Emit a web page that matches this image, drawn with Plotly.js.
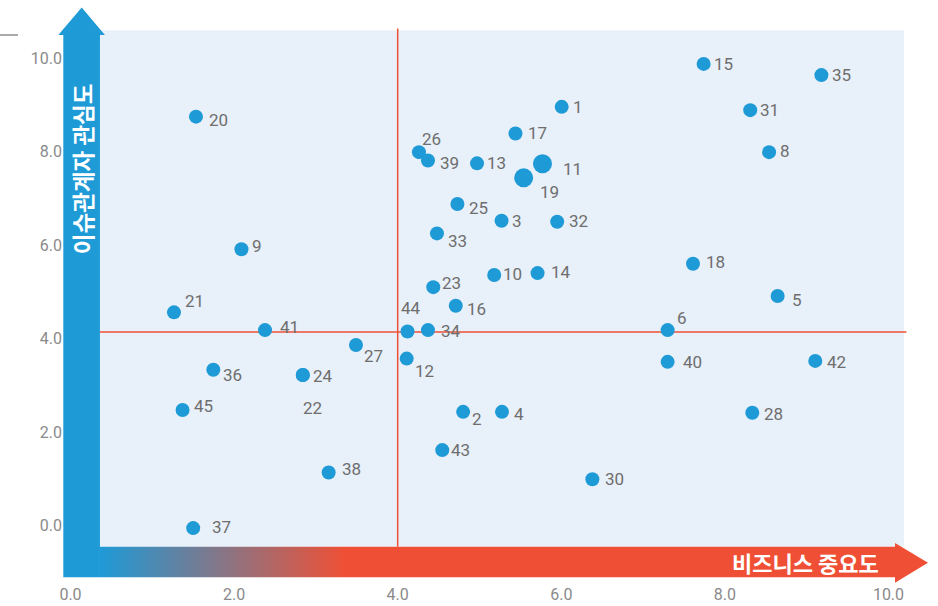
<!DOCTYPE html>
<html><head><meta charset="utf-8">
<script src="https://cdn.plot.ly/plotly-3.0.1.min.js"></script>
<style>html,body{margin:0;padding:0;background:#fff}#chart{width:938px;height:606px}</style>
</head><body><div id="chart"></div>
<script>
// ---- data ----
const ids = [1,2,3,4,5,6,8,9,10,11,12,13,14,15,16,17,18,19,20,21,22,23,24,25,26,27,28,30,31,32,33,34,35,36,37,38,39,40,41,42,43,44,45];
const bizImportance = [6.005,4.80,5.27,5.275,8.645,7.30,8.54,2.09,5.18,5.77,4.11,4.97,5.71,7.74,4.71,5.44,7.61,5.54,1.534,1.265,2.84,4.435,2.84,4.73,4.26,3.49,8.335,6.38,8.31,5.95,4.48,4.37,9.18,1.746,1.50,3.156,4.37,7.30,2.378,9.105,4.545,4.12,1.37];
const stakeholderInterest = [8.96,2.43,6.52,2.43,4.91,4.18,7.99,5.91,5.36,7.74,3.57,7.75,5.40,9.88,4.70,8.39,5.60,7.44,8.75,4.56,3.22,5.10,3.22,6.88,7.99,3.86,2.41,0.985,8.89,6.50,6.25,4.18,9.64,3.33,-0.06,1.13,7.81,3.50,4.18,3.52,1.61,4.15,2.47];
const largeIds = [11, 19];
const xThreshold = 4.0;
const yThreshold = 4.14;
const xTicks = [0,2,4,6,8,10];
const yTicks = [0,2,4,6,8,10];
const xAxisTitle = '비즈니스 중요도';
const yAxisTitle = '이슈관계자 관심도';

// ---- label placement (style: pixel offsets of label from its dot) ----
const labelOffsets = {
  1:[11.6,0],2:[8.4,7],3:[10.6,0],4:[12.3,2],5:[14.3,4],6:[9,-12],8:[11,-1.5],9:[10.6,-3],
  10:[8.3,-1],11:[20.6,5],12:[8.3,12],13:[9.7,0],14:[13.4,-1],15:[10.6,0],16:[11,3.5],
  17:[12.4,0],18:[12.7,-1.5],19:[16.7,14],20:[13.3,3],21:[11.3,-11],22:[0.6,33],23:[8.4,-4.5],
  24:[10.6,1],25:[12,3.5],26:[2.7,-13],27:[8,11],28:[12,1.5],30:[12.3,0],31:[10,0],32:[12,-1],
  33:[10.7,7.5],34:[13.3,1],35:[10.6,0],36:[9.4,5.5],37:[18.4,-1],38:[13.6,-3.5],39:[12.3,2],
  40:[15,0],41:[15,-3.3],42:[11.4,1],43:[8.4,0],44:[-7,-24],45:[11.3,-4]
};

// ---- styling / geometry constants ----
const BLUE = '#1E9AD6', RED = '#EF5035', BG = '#E8F0F9';
const bgBox = {x0:0.36, x1:10.19, y0:-0.46, y1:10.6};
const vArrow = {x0:-0.088, x1:0.36, yBottom:-1.11, headBase:10.5, headL:-0.149, headR:0.421, tipX:0.137, tipY:11.09};
const hArrow = {x0:0.36, bodyEnd:10.08, yTop:-0.46, yBot:-1.11, headTop:-0.379, headBot:-1.229, tipX:10.483, tipY:-0.804};
const gradStart = 0.36, gradStop = 3.36;

const markerSizes = ids.map(id => largeIds.includes(id) ? 19 : 14);

const arrowTrace = {
  type:'scatter', mode:'lines', hoverinfo:'skip', showlegend:false,
  x:[hArrow.x0, hArrow.bodyEnd, hArrow.bodyEnd, hArrow.tipX, hArrow.bodyEnd, hArrow.bodyEnd, hArrow.x0, hArrow.x0],
  y:[hArrow.yTop, hArrow.yTop, hArrow.headTop, hArrow.tipY, hArrow.headBot, hArrow.yBot, hArrow.yBot, hArrow.yTop],
  line:{width:0, color:RED},
  fill:'toself',
  fillcolor:RED,
  fillgradient:{type:'horizontal', colorscale:[[0,BLUE],[1,RED]], start:gradStart, stop:gradStop}
};

const pointTrace = {
  type:'scatter', mode:'markers', showlegend:false, hoverinfo:'skip',
  x: bizImportance, y: stakeholderInterest,
  marker:{color:BLUE, size:markerSizes, opacity:1, line:{width:0}}
};

const labelAnns = ids.map((id, i) => {
  const off = labelOffsets[id] || [10,0];
  return {
    x: bizImportance[i], y: stakeholderInterest[i], xref:'x', yref:'y',
    text: String(id), showarrow:false, xanchor:'left', yanchor:'middle',
    xshift: off[0], yshift: -off[1], borderpad:0, borderwidth:0,
    font:{family:'Roboto, "Noto Sans", sans-serif', size:17, color:'#6e6e6e'}
  };
});

const titleAnns = [
  {x:vArrow.tipX, y:7.64, xref:'x', yref:'y', text:yAxisTitle, showarrow:false, textangle:-90,
   xanchor:'center', yanchor:'middle', font:{family:'"Noto Sans CJK KR", sans-serif', size:22.5, color:'#ffffff', weight:700}},
  {x:8.98, y:-0.78, xref:'x', yref:'y', text:xAxisTitle, showarrow:false,
   xanchor:'center', yanchor:'middle', font:{family:'"Noto Sans CJK KR", sans-serif', size:22, color:'#ffffff', weight:700}}
];

const shapes = [
  {type:'rect', xref:'x', yref:'y', x0:bgBox.x0, x1:bgBox.x1, y0:bgBox.y0, y1:bgBox.y1, fillcolor:BG, line:{width:0}, layer:'below'},
  {type:'path', xref:'x', yref:'y', layer:'below', fillcolor:BLUE, line:{width:0},
   path:`M${vArrow.x0},${vArrow.yBottom} L${vArrow.x1},${vArrow.yBottom} L${vArrow.x1},${vArrow.headBase} L${vArrow.headR},${vArrow.headBase} L${vArrow.tipX},${vArrow.tipY} L${vArrow.headL},${vArrow.headBase} L${vArrow.x0},${vArrow.headBase} Z`},
  {type:'line', xref:'x', yref:'y', x0:xThreshold, x1:xThreshold, y0:bgBox.y0, y1:bgBox.y1+0.04, line:{color:RED, width:1.5}, layer:'below'},
  {type:'line', xref:'x', yref:'y', x0:bgBox.x0, x1:bgBox.x1+0.03, y0:yThreshold, y1:yThreshold, line:{color:RED, width:1.5}, layer:'below'},
  {type:'line', xref:'paper', yref:'paper', x0:-55/877, x1:-37/877, y0:(585-35)/580, y1:(585-35)/580, line:{color:'#555555', width:1}}
];

const tickFont = {family:'Roboto, "Noto Sans", sans-serif', size:16, color:'#8a8a8a'};

const layout = {
  width:938, height:606,
  margin:{l:55, r:6, t:5, b:21, pad:0},
  paper_bgcolor:'#ffffff', plot_bgcolor:'rgba(0,0,0,0)',
  showlegend:false, hovermode:false,
  xaxis:{range:[-0.1895, 10.532], showgrid:false, zeroline:false, showline:false, ticks:'',
         tickvals:xTicks, tickformat:'.1f', tickfont:tickFont, fixedrange:true, ticklabelstandoff:-2},
  yaxis:{range:[-1.278, 11.141], showgrid:false, zeroline:false, showline:false, ticks:'',
         tickvals:yTicks, tickformat:'.1f', tickfont:tickFont, fixedrange:true, ticklabelstandoff:-8},
  shapes: shapes,
  annotations: labelAnns.concat(titleAnns)
};

Plotly.newPlot('chart', [arrowTrace, pointTrace], layout, {displayModeBar:false, staticPlot:true});
</script>
</body></html>
